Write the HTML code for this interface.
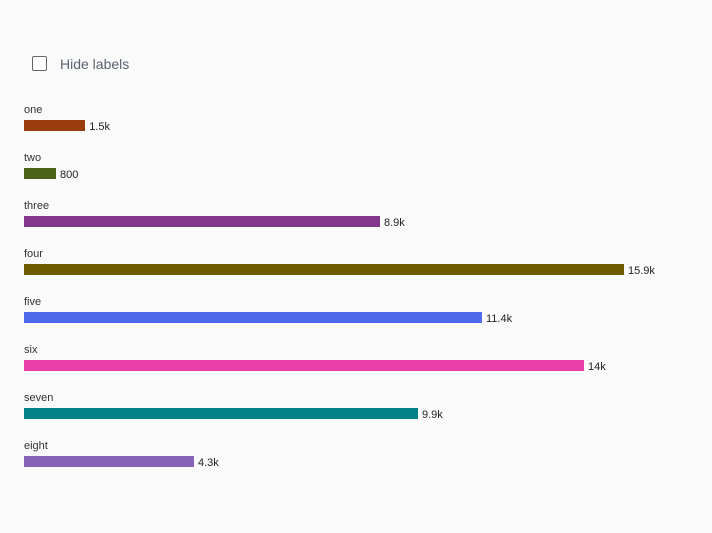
<!DOCTYPE html>
<html><head><meta charset="utf-8"><style>
body{margin:0;background:#fafafa;font-family:"Liberation Sans",sans-serif;}
#wrap{position:relative;width:712px;height:533px;overflow:hidden;background:#fafafa}
.cb{position:absolute;left:32px;top:56px;width:13px;height:13px;border:1.5px solid #666;border-radius:2px;background:#fff}
.hl{position:absolute;left:60px;top:56px;font-size:14px;color:#5a6270}
.lbl{position:absolute;left:24px;font-size:11px;color:#333}
.bar{position:absolute;left:24px;height:11px}
.val{position:absolute;font-size:11px;color:#222}
</style></head><body>
<div id="wrap">
<div class="cb"></div>
<div class="hl">Hide labels</div>
<div id="chart"></div>
</div>
<script>
const categories=["one","two","three","four","five","six","seven","eight"];
const values=[1530,800,8900,15900,11450,14000,9850,4250];
const valueLabels=["1.5k","800","8.9k","15.9k","11.4k","14k","9.9k","4.3k"];
const colors=["#9a3d0c","#4a6116","#82368c","#6e5a00","#4f6bed","#e83fa8","#038387","#8764b8"];
const maxWidth=600, domainMax=15000;
function xScale(v){return Math.min(maxWidth,v/domainMax*maxWidth);}
function yPos(i){return 120+i*48;}
const chart=document.getElementById('chart');
categories.forEach((c,i)=>{
  const l=document.createElement('div');l.className='lbl';
  
  
  l.style.top=(yPos(i)-16)+'px';l.textContent=c;chart.appendChild(l);
  const b=document.createElement('div');b.className='bar';
  
  
  const w=xScale(values[i]);
  b.style.top=yPos(i)+'px';b.style.width=w+'px';b.style.background=colors[i];chart.appendChild(b);
  const v=document.createElement('div');v.className='val';
  
  
  v.style.top=(yPos(i)+1)+'px';v.style.left=(24+w+4)+'px';v.textContent=valueLabels[i];chart.appendChild(v);
});
</script>
</body></html>
